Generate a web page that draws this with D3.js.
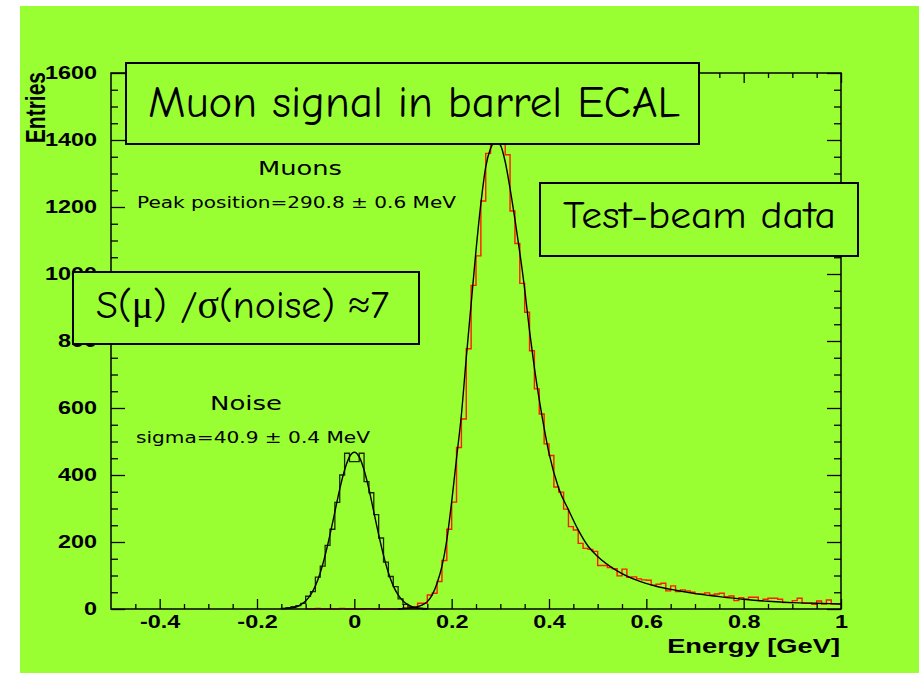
<!DOCTYPE html>
<html>
<head>
<meta charset="utf-8">
<script src="https://cdn.jsdelivr.net/npm/d3@7"></script>
<style>
  html, body { margin: 0; padding: 0; background: #ffffff; }
  svg { display: block; }
</style>
</head>
<body>
<svg id="chart" width="919" height="673"></svg>
<script>
// ---- data -------------------------------------------------------------
const binWidth = 0.01;               // GeV per bin

// noise (pedestal) histogram, first bin starts at noiseStart
const noiseStart = -0.15;
const noiseCounts = [
  2, 4, 7, 10, 17, 38, 52, 95, 128, 190,
  238, 318, 400, 465, 440, 440, 465, 380, 347, 282,
  212, 140, 97, 67, 30, 14, 6, 3, 2, 0
];

// muon signal histogram, first bin starts at muonStart
const muonStart = -0.10;
const muonCounts = [
  0, 0, 2, 0, 0, 0, 0, 2, 0, 0,
  0, 0, 1, 1, 0, 0, 0, 0, 0, 1,
  3, 4, 6, 17, 17, 42, 47, 82, 145, 238,
  319, 482, 567, 777, 966, 1054, 1218, 1360, 1420, 1435,
  1410, 1356, 1188, 1091, 972, 886, 771, 657, 582, 493,
  458, 364, 349, 298, 246, 236, 196, 181, 178, 172,
  130, 130, 124, 120, 99, 119, 95, 96, 90, 87,
  86, 71, 74, 77, 54, 69, 52, 57, 54, 50,
  46, 45, 48, 42, 45, 47, 37, 39, 25, 34,
  29, 35, 35, 25, 29, 32, 32, 29, 19, 19,
  25, 32, 17, 17, 14, 24, 15, 27, 15, 15
];

// gaussian fit to the noise peak
const noiseFitE = [
  -0.15, -0.14, -0.13, -0.12, -0.11, -0.10, -0.09, -0.08, -0.07, -0.06, -0.05,
  -0.04, -0.03, -0.02, -0.01, 0.00, 0.01, 0.02, 0.03, 0.04, 0.05,
  0.06, 0.07, 0.08, 0.09, 0.10, 0.11, 0.12, 0.13, 0.14, 0.15
];
const noiseFitN = [
  0.6, 1.3, 3, 6, 13, 24, 42, 69, 108, 160, 222,
  290, 358, 415, 454, 468, 454, 415, 358, 290, 222,
  160, 108, 69, 42, 24, 13, 6, 3, 1.3, 0.6
];

// fit to the muon signal
const muonFitE = [
  0.09, 0.10, 0.11, 0.12, 0.13, 0.14, 0.15, 0.16, 0.17, 0.18, 0.19,
  0.20, 0.21, 0.22, 0.23, 0.24, 0.25, 0.26, 0.27, 0.28, 0.29,
  0.30, 0.31, 0.32, 0.33, 0.34, 0.35, 0.36, 0.37, 0.38, 0.39,
  0.40, 0.42, 0.44, 0.46, 0.48, 0.50, 0.54, 0.58, 0.62, 0.66,
  0.70, 0.75, 0.80, 0.85, 0.90, 0.95, 1.00
];
const muonFitN = [
  0, 1, 2, 4, 7, 12, 22, 42, 77, 127, 206,
  320, 450, 580, 750, 910, 1070, 1210, 1320, 1375, 1395,
  1385, 1335, 1255, 1163, 1064, 955, 830, 720, 625, 540,
  465, 360, 296, 236, 188, 157, 114, 86, 68, 56,
  46, 37, 29, 23, 19, 17, 15
];

// axes
const xDomain = [-0.5, 1.0];
const yDomain = [0, 1600];
const xMajorTicks = [-0.4, -0.2, 0, 0.2, 0.4, 0.6, 0.8, 1.0];
const xTickLabels = ["-0.4", "-0.2", "0", "0.2", "0.4", "0.6", "0.8", "1"];
const xMinorTicks = [-0.45, -0.35, -0.3, -0.25, -0.15, -0.1, -0.05, 0.05, 0.1, 0.15,
                     0.25, 0.3, 0.35, 0.45, 0.5, 0.55, 0.65, 0.7, 0.75, 0.85, 0.9, 0.95];
const yMajorTicks = [0, 200, 400, 600, 800, 1000, 1200, 1400, 1600];
const yTickLabels = ["0", "200", "400", "600", "800", "1000", "1200", "1400", "1600"];
const yMinorTicks = [50, 100, 150, 250, 300, 350, 450, 500, 550, 650, 700, 750,
                     850, 900, 950, 1050, 1100, 1150, 1250, 1300, 1350, 1450, 1500, 1550];

// ---- drawing ----------------------------------------------------------
const GREEN = "#99ff33";
const svg = d3.select("#chart");

const frame = { left: 111, right: 841, top: 73, bottom: 609 };
const x = d3.scaleLinear().domain(xDomain).range([frame.left, frame.right]);
const y = d3.scaleLinear().domain(yDomain).range([frame.bottom, frame.top]);

svg.append("rect")
  .attr("x", 20).attr("y", 6).attr("width", 899).attr("height", 667)
  .attr("fill", GREEN);

// step outline of a histogram
function stepPoints(start, counts, dropAtEnd) {
  const pts = [[start, 0]];
  counts.forEach((c, i) => pts.push([start + i * binWidth, c]));
  const end = start + counts.length * binWidth;
  pts.push([end, counts[counts.length - 1]]);
  if (dropAtEnd) pts.push([end, 0]);
  return pts;
}
const stepLine = d3.line()
  .x(d => x(d[0])).y(d => y(d[1]))
  .curve(d3.curveStepAfter);

svg.append("path")
  .attr("d", stepLine(stepPoints(muonStart, muonCounts, false)))
  .attr("fill", "none").attr("stroke", "#ff1a00").attr("stroke-width", 1.4);

svg.append("path")
  .attr("d", stepLine(stepPoints(noiseStart, noiseCounts, true)))
  .attr("fill", "none").attr("stroke", "#1a2a00").attr("stroke-width", 1.3);

// fitted curves
const fitLine = d3.line()
  .x(d => x(d[0])).y(d => y(d[1]))
  .curve(d3.curveMonotoneX);

svg.append("path")
  .attr("d", fitLine(noiseFitE.map((e, i) => [e, noiseFitN[i]])))
  .attr("fill", "none").attr("stroke", "#000").attr("stroke-width", 1.4);

svg.append("path")
  .attr("d", fitLine(muonFitE.map((e, i) => [e, muonFitN[i]])))
  .attr("fill", "none").attr("stroke", "#000").attr("stroke-width", 1.4);

// frame and ticks (all ticks point into the plot)
const LABEL_FONT = "'Liberation Sans', Arial, Helvetica, sans-serif";
const STRETCH = 1.3;

function styleAxis(g) {
  g.select(".domain").remove();
  g.selectAll(".tick line").attr("stroke", "#000").attr("stroke-width", 1.3);
}

// left axis with labels
const yAxisMajor = d3.axisLeft(y).tickValues(yMajorTicks)
  .tickSize(-14).tickPadding(14 / STRETCH)
  .tickFormat((d, i) => yTickLabels[i]);
svg.append("g").attr("transform", `translate(${frame.left},0)`)
  .call(yAxisMajor).call(styleAxis)
  .selectAll(".tick text")
  .attr("font-family", LABEL_FONT).attr("font-weight", "bold")
  .attr("font-size", 18).attr("fill", "#000")
  .attr("transform", `scale(${STRETCH},1)`);
svg.append("g").attr("transform", `translate(${frame.left},0)`)
  .call(d3.axisLeft(y).tickValues(yMinorTicks).tickSize(-7).tickFormat(""))
  .call(styleAxis);

// right axis
svg.append("g").attr("transform", `translate(${frame.right},0)`)
  .call(d3.axisRight(y).tickValues(yMajorTicks).tickSize(-14).tickFormat(""))
  .call(styleAxis);
svg.append("g").attr("transform", `translate(${frame.right},0)`)
  .call(d3.axisRight(y).tickValues(yMinorTicks).tickSize(-7).tickFormat(""))
  .call(styleAxis);

// bottom axis with labels
const xAxisMajor = d3.axisBottom(x).tickValues(xMajorTicks)
  .tickSize(-10).tickPadding(6)
  .tickFormat((d, i) => xTickLabels[i]);
svg.append("g").attr("transform", `translate(0,${frame.bottom})`)
  .call(xAxisMajor).call(styleAxis)
  .selectAll(".tick text")
  .attr("font-family", LABEL_FONT).attr("font-weight", "bold")
  .attr("font-size", 18).attr("fill", "#000")
  .attr("transform", `scale(${STRETCH},1)`);
svg.append("g").attr("transform", `translate(0,${frame.bottom})`)
  .call(d3.axisBottom(x).tickValues(xMinorTicks).tickSize(-5).tickFormat(""))
  .call(styleAxis);

// top axis
svg.append("g").attr("transform", `translate(0,${frame.top})`)
  .call(d3.axisTop(x).tickValues(xMajorTicks).tickSize(-10).tickFormat(""))
  .call(styleAxis);
svg.append("g").attr("transform", `translate(0,${frame.top})`)
  .call(d3.axisTop(x).tickValues(xMinorTicks).tickSize(-5).tickFormat(""))
  .call(styleAxis);

svg.append("rect")
  .attr("x", frame.left).attr("y", frame.top)
  .attr("width", frame.right - frame.left).attr("height", frame.bottom - frame.top)
  .attr("fill", "none").attr("stroke", "#000").attr("stroke-width", 1.5);

// axis titles
svg.append("text")
  .attr("transform", `translate(45,72) scale(${STRETCH},1) rotate(-90)`)
  .attr("text-anchor", "end")
  .attr("font-family", LABEL_FONT).attr("font-weight", "bold").attr("font-size", 21)
  .text("Entries");

svg.append("text")
  .attr("transform", `translate(840,653) scale(${STRETCH},1)`)
  .attr("text-anchor", "end")
  .attr("font-family", LABEL_FONT).attr("font-weight", "bold").attr("font-size", 21)
  .text("Energy [GeV]");

// fit results
const FIT_FONT = "'DejaVu Sans', Verdana, sans-serif";
function fitText(str, x0, yBase, size, len) {
  svg.append("text")
    .attr("x", x0).attr("y", yBase)
    .attr("font-family", FIT_FONT).attr("font-size", size).attr("fill", "#000")
    .attr("textLength", len).attr("lengthAdjust", "spacingAndGlyphs")
    .text(str);
}
fitText("Muons", 258, 175, 19, 84);
fitText("Peak position=290.8 \u00b1 0.6 MeV", 137, 208, 15, 319);
fitText("Noise", 210, 410, 19, 72);
fitText("sigma=40.9 \u00b1 0.4 MeV", 136, 443, 15, 234);

// framed captions
const BOX_FONT = "'Comic Sans MS', 'Comic Neue', Lato, sans-serif";
function box(x0, y0, w, h) {
  svg.append("rect")
    .attr("x", x0).attr("y", y0).attr("width", w).attr("height", h)
    .attr("fill", GREEN).attr("stroke", "#000").attr("stroke-width", 2);
}
box(126, 63, 573, 81);
svg.append("text")
  .attr("x", 148).attr("y", 117)
  .attr("font-family", BOX_FONT).attr("font-size", 45)
  .attr("textLength", 532).attr("lengthAdjust", "spacingAndGlyphs")
  .text("Muon signal in barrel ECAL");

box(540, 183, 318, 73);
svg.append("text")
  .attr("x", 563).attr("y", 228)
  .attr("font-family", BOX_FONT).attr("font-size", 39)
  .attr("textLength", 273).attr("lengthAdjust", "spacingAndGlyphs")
  .text("Test-beam data");

box(73, 272, 346, 72);
const ratio = svg.append("text")
  .attr("x", 96).attr("y", 318)
  .attr("font-family", BOX_FONT).attr("font-size", 39)
  .attr("textLength", 293).attr("lengthAdjust", "spacingAndGlyphs");
const SYMBOL_FONT = "'Liberation Serif', 'DejaVu Serif', serif";
ratio.append("tspan").text("S(");
ratio.append("tspan").attr("font-family", SYMBOL_FONT).text("\u03bc");
ratio.append("tspan").text(") /");
ratio.append("tspan").attr("font-family", SYMBOL_FONT).text("\u03c3");
ratio.append("tspan").text("(noise) ");
ratio.append("tspan").attr("font-family", SYMBOL_FONT).text("\u2248");
ratio.append("tspan").text("7");
</script>
</body>
</html>
